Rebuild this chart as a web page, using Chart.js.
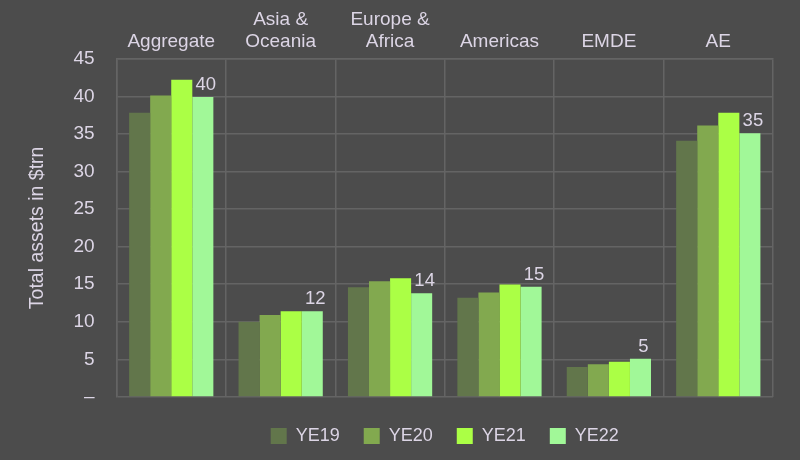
<!DOCTYPE html>
<html>
<head>
<meta charset="utf-8">
<script src="https://cdn.jsdelivr.net/npm/chart.js@4.4.0/dist/chart.umd.min.js"></script>
<style>
  html, body { margin: 0; padding: 0; background: #4c4c4c; }
  #wrap { width: 800px; height: 460px; }
</style>
</head>
<body>
<div id="wrap"><canvas id="assetsChart"></canvas></div>
<script>
// categories across the top
const regions = ["Aggregate", ["Asia &", "Oceania"], ["Europe &", "Africa"], "Americas", "EMDE", "AE"];

// total assets, $trn
const ye19 = [37.8, 10.0, 14.6, 13.2, 4.0, 34.1];
const ye20 = [40.1, 10.9, 15.4, 13.9, 4.35, 36.1];
const ye21 = [42.2, 11.4, 15.8, 14.95, 4.7, 37.8];
const ye22 = [39.9, 11.4, 13.8, 14.65, 5.1, 35.1];

// numbers printed above the YE22 bars
const ye22Labels = ["40", "12", "14", "15", "5", "35"];

const yTicks = [0, 5, 10, 15, 20, 25, 30, 35, 40, 45];

const textColor = "#dcd5e5";
const gridColor = "#646464";
const fontFamily = "'Liberation Sans', Arial, sans-serif";

// draws the value labels over the last series
const valueLabels = {
    id: "valueLabels",
    afterDatasetsDraw(chart) {
        const ctx = chart.ctx;
        const meta = chart.getDatasetMeta(3);
        ctx.save();
        ctx.fillStyle = textColor;
        ctx.font = "18.5px " + fontFamily;
        ctx.textAlign = "center";
        ctx.textBaseline = "bottom";
        meta.data.forEach((bar, i) => {
            ctx.fillText(ye22Labels[i], bar.x + 3, bar.y - 3);
        });
        ctx.restore();
    }
};

const ctx = document.getElementById("assetsChart").getContext("2d");

new Chart(ctx, {
    type: "bar",
    data: {
        labels: regions,
        datasets: [
            { label: "YE19", data: ye19, backgroundColor: "#62764b" },
            { label: "YE20", data: ye20, backgroundColor: "#82a94f" },
            { label: "YE21", data: ye21, backgroundColor: "#abff45" },
            { label: "YE22", data: ye22, backgroundColor: "#a1f898" }
        ]
    },
    options: {
        responsive: true,
        maintainAspectRatio: false,
        animation: false,
        layout: {
            padding: { left: 26, right: 27, top: 3, bottom: 5 }
        },
        datasets: {
            bar: {
                categoryPercentage: 0.77,
                barPercentage: 1.0,
                borderWidth: 0
            }
        },
        plugins: {
            legend: {
                position: "bottom",
                fullSize: false, // centre under the plot, not the canvas
                // empty title only adds a little space above the items
                title: {
                    display: true,
                    text: "",
                    font: { size: 5 },
                    padding: 0
                },
                labels: {
                    color: textColor,
                    font: { family: fontFamily, size: 18 },
                    boxWidth: 16,
                    boxHeight: 16,
                    padding: 24
                }
            },
            tooltip: { enabled: false }
        },
        scales: {
            x: {
                position: "top",
                grid: {
                    color: gridColor,
                    lineWidth: 1.5,
                    drawTicks: false
                },
                border: { color: gridColor, width: 1.5 },
                ticks: {
                    color: textColor,
                    font: { family: fontFamily, size: 19, lineHeight: 1.15 },
                    padding: 6,
                    maxRotation: 0
                }
            },
            y: {
                min: 0,
                max: 45,
                afterBuildTicks: function(scale) {
                    scale.ticks = yTicks.map(v => ({ value: v }));
                },
                grid: {
                    color: gridColor,
                    lineWidth: 1.5,
                    drawTicks: false
                },
                border: { color: gridColor, width: 1.5 },
                ticks: {
                    color: textColor,
                    font: { family: fontFamily, size: 19 },
                    padding: 22,
                    callback: v => v === 0 ? "–" : v
                },
                title: {
                    display: true,
                    text: "Total assets in $trn",
                    color: textColor,
                    font: { family: fontFamily, size: 19.5 },
                    padding: { top: 0, bottom: 2 }
                }
            }
        }
    },
    plugins: [valueLabels]
});
</script>
</body>
</html>
